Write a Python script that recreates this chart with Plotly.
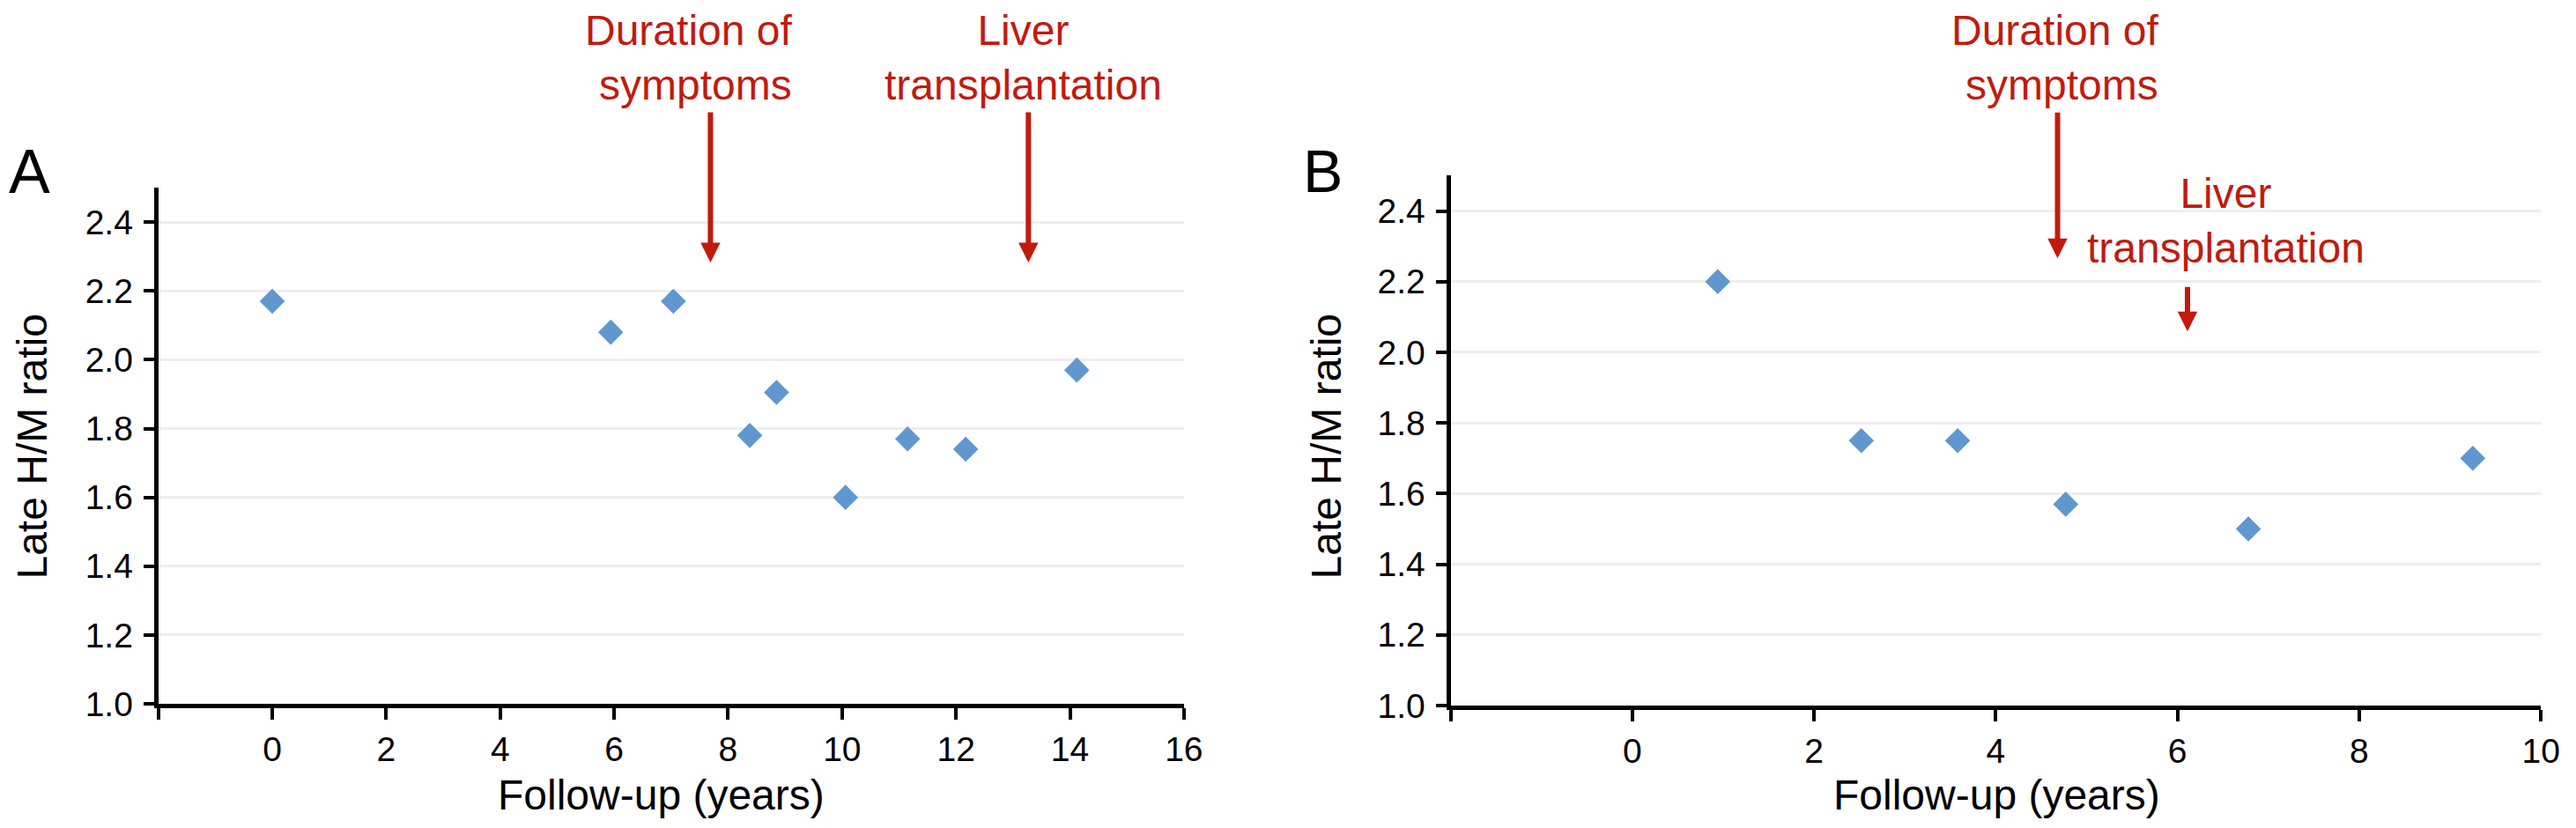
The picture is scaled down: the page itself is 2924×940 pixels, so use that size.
import plotly.graph_objects as go

# Panel A data
a_years = [0.0, 5.94, 7.04, 8.38, 8.85, 10.06, 11.15, 12.17, 14.12]
a_ratio = [2.17, 2.08, 2.17, 1.78, 1.905, 1.60, 1.77, 1.74, 1.97]

# Panel B data
b_years = [0.94, 2.52, 3.58, 4.77, 6.78, 9.25]
b_ratio = [2.20, 1.75, 1.75, 1.57, 1.50, 1.70]

# Axis ticks
a_xticks = [-2, 0, 2, 4, 6, 8, 10, 12, 14, 16]
b_xticks = [-2, 0, 2, 4, 6, 8, 10]
yticks = [1.0, 1.2, 1.4, 1.6, 1.8, 2.0, 2.2, 2.4]

# Event markers (label, year, arrow tip ratio, tail offset px)
a_events = [("Duration of<br>symptoms", 7.69, 2.2825, -172),
            ("Liver<br>transplantation", 13.27, 2.2825, -172)]
b_events = [("Duration of<br>symptoms", 4.68, 2.266, -167),
            ("Liver<br>transplantation", 6.11, 2.059, -52)]

FONT = "Liberation Sans, Arial, Helvetica, sans-serif"
RED = "#C11B0E"
BLUE = "#6097CF"
W, H = 2924, 940

fig = go.Figure()
fig.add_trace(go.Scatter(x=a_years, y=a_ratio, mode="markers", xaxis="x", yaxis="y",
                         marker=dict(symbol="diamond", size=22, color=BLUE, line=dict(width=0)),
                         showlegend=False, cliponaxis=False))
fig.add_trace(go.Scatter(x=b_years, y=b_ratio, mode="markers", xaxis="x2", yaxis="y2",
                         marker=dict(symbol="diamond", size=22, color=BLUE, line=dict(width=0)),
                         showlegend=False, cliponaxis=False))

common_x = dict(showline=True, linecolor="black", linewidth=5, ticks="outside",
                ticklen=13, tickwidth=4, tickcolor="black", showgrid=False, zeroline=False,
                tickfont=dict(family=FONT, size=39, color="black"), ticklabelstandoff=0)
common_y = dict(showline=True, linecolor="black", linewidth=5, ticks="outside",
                ticklen=12, tickwidth=4, tickcolor="black", showgrid=True,
                gridcolor="#eeeeee", gridwidth=3, zeroline=False, range=[1.0, 2.5],
                tickvals=yticks, ticktext=[f"{v:.1f}" for v in yticks],
                tickfont=dict(family=FONT, size=39, color="black"), ticklabelstandoff=4)

fig.update_layout(
    width=W, height=H, margin=dict(l=0, r=0, t=0, b=0),
    paper_bgcolor="white", plot_bgcolor="white",
    xaxis=dict(domain=[173 / W, 1346 / W], range=[-2, 16], tickvals=a_xticks,
               ticktext=["" if v == -2 else str(v) for v in a_xticks], anchor="y", **common_x),
    yaxis=dict(domain=[1 - 810 / H, 1 - 210 / H], anchor="x", **common_y),
    xaxis2=dict(domain=[1651 / W, 2898 / W], range=[-2, 10], tickvals=b_xticks,
                ticktext=["" if v == -2 else str(v) for v in b_xticks], anchor="y2", **common_x),
    yaxis2=dict(domain=[1 - 812 / H, 1 - 196 / H], anchor="x2", **common_y),
)

ann = []
# Panel letters
ann.append(dict(text="A", x=0.0, y=1 - 150 / H, xref="paper", yref="paper", xanchor="left",
                yanchor="top", showarrow=False, font=dict(family=FONT, size=70, color="black")))
ann.append(dict(text="B", x=1480 / W, y=1 - 150 / H, xref="paper", yref="paper", xanchor="left",
                yanchor="top", showarrow=False, font=dict(family=FONT, size=68, color="black")))
# Axis titles
for xc, yl in [(748 / W, 0 / W), (2276 / W, 1480 / W)]:
    ann.append(dict(text="Follow-up (years)", x=xc, y=1 - 887 / H, xref="paper", yref="paper",
                    xanchor="center", yanchor="top", showarrow=False,
                    font=dict(family=FONT, size=48, color="black")))
    ann.append(dict(text="Late H/M ratio", x=yl, y=1 - 511 / H, xref="paper", yref="paper",
                    xanchor="left", yanchor="middle", textangle=-90, showarrow=False,
                    font=dict(family=FONT, size=48, color="black")))

# Arrows
for events, xr, yr in [(a_events, "x", "y"), (b_events, "x2", "y2")]:
    for label, ex, ey, off in events:
        ann.append(dict(text="", x=ex, y=ey, xref=xr, yref=yr, ax=0, ay=off,
                        showarrow=True, arrowhead=2, arrowwidth=6, arrowsize=0.75,
                        arrowcolor=RED, font=dict(size=1)))

# Event labels
label_font = dict(family=FONT, size=48, color=RED)
ann.append(dict(text=a_events[0][0], x=900 / W, y=1 - (-2) / H, xref="paper", yref="paper",
                xanchor="right", yanchor="top", align="right", showarrow=False, font=label_font))
ann.append(dict(text=a_events[1][0], x=1162 / W, y=1 - (-2) / H, xref="paper", yref="paper",
                xanchor="center", yanchor="top", align="center", showarrow=False, font=label_font))
ann.append(dict(text=b_events[0][0], x=2463 / W, y=1 - (-2) / H, xref="paper", yref="paper",
                xanchor="right", yanchor="top", align="right", showarrow=False, font=label_font))
ann.append(dict(text=b_events[1][0], x=2538 / W, y=1 - 187 / H, xref="paper", yref="paper",
                xanchor="center", yanchor="top", align="center", showarrow=False, font=label_font))

fig.update_layout(annotations=ann)
fig.write_html("out.html")
